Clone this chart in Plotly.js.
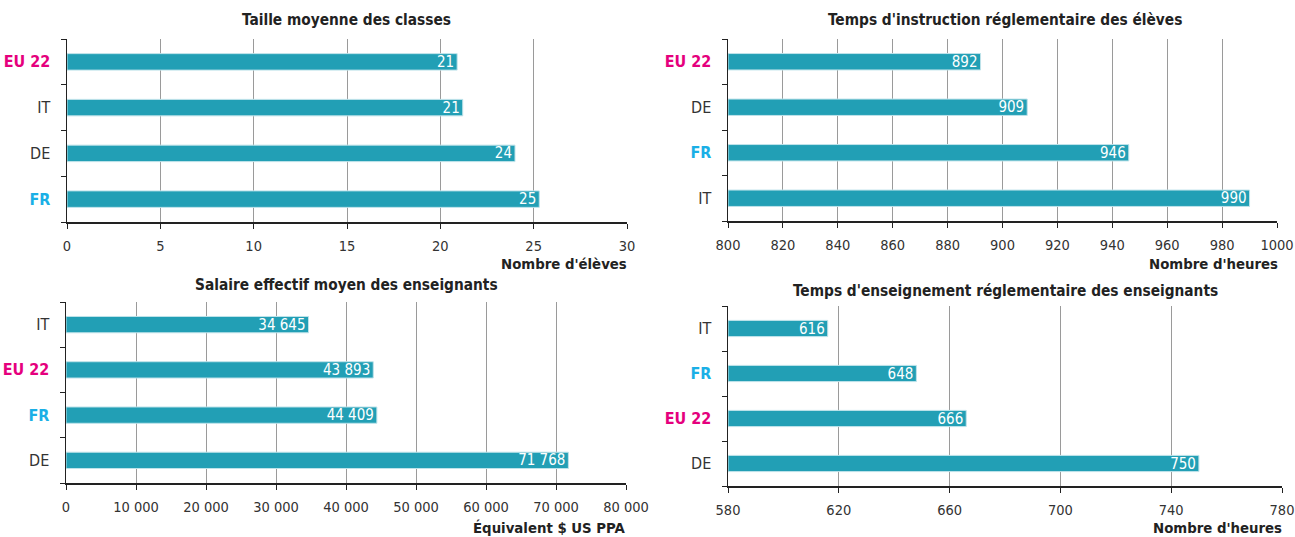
<!DOCTYPE html>
<html><head><meta charset="utf-8">
<script src="https://cdn.plot.ly/plotly-3.0.1.min.js"></script>
<style>html,body{margin:0;padding:0;background:#fff}#chart{width:1295px;height:537px}</style>
</head><body><div id="chart"></div>
<script>
// Panel 1: Taille moyenne des classes
const cats1 = ['EU 22', 'IT', 'DE', 'FR'];
const vals1 = [20.9, 21.2, 24.0, 25.3];
const labels1 = ['21', '21', '24', '25'];
// Panel 2: Temps d'instruction réglementaire des élèves
const cats2 = ['EU 22', 'DE', 'FR', 'IT'];
const vals2 = [892, 909, 946, 990];
const labels2 = ['892', '909', '946', '990'];
// Panel 3: Salaire effectif moyen des enseignants
const cats3 = ['IT', 'EU 22', 'FR', 'DE'];
const vals3 = [34645, 43893, 44409, 71768];
const labels3 = ['34 645', '43 893', '44 409', '71 768'];
// Panel 4: Temps d'enseignement réglementaire des enseignants
const cats4 = ['IT', 'FR', 'EU 22', 'DE'];
const vals4 = [616, 648, 666, 750];
const labels4 = ['616', '648', '666', '750'];

const titles = ['Taille moyenne des classes', "Temps d'instruction réglementaire des élèves",
  'Salaire effectif moyen des enseignants', "Temps d'enseignement réglementaire des enseignants"];
const axisTitles = ["Nombre d'élèves", "Nombre d'heures", 'Équivalent $ US PPA', "Nombre d'heures"];

// pick an installed condensed font
function pickFont(list) {
  const c = document.createElement('canvas').getContext('2d');
  const s = 'Taille moyenne des classes 0123456789';
  for (const f of list) {
    let differs = false;
    for (const fb of ['monospace', 'serif']) {
      c.font = '20px ' + fb; const w0 = c.measureText(s).width;
      c.font = '20px "' + f + '", ' + fb; const w1 = c.measureText(s).width;
      if (Math.abs(w1 - w0) > 0.5) differs = true; else { differs = false; break; }
    }
    if (differs) return f;
  }
  return null;
}
const picked = pickFont(['Liberation Sans Narrow', 'DejaVu Sans Condensed', 'Roboto Condensed', 'Open Sans Condensed', 'Noto Sans Condensed', 'Arial Narrow']);
const FONT = (picked ? '"' + picked + '", ' : '') + 'Roboto, sans-serif';
const K = picked ? 1 : 0.88;

const W = 1295, H = 537;
const BAR = '#229fb5';
const fx = p => p / W, fy = p => 1 - p / H;

function catLabel(c) {
  if (c === 'EU 22') return '<span style="color:#e5007d;font-weight:bold">EU 22</span>';
  if (c === 'FR') return '<span style="color:#1aafe6;font-weight:bold">FR</span>';
  return c;
}

const panels = [
  {cats: cats1, vals: vals1, labels: labels1, xr: [0, 30], dt: 5, dom: [67, 627, 39, 222], fmt: null,
   title: [347, 20], atitle: [629, 263]},
  {cats: cats2, vals: vals2, labels: labels2, xr: [800, 1000], dt: 20, dom: [728, 1277, 39, 221], fmt: null,
   title: [1005, 20], atitle: [1280, 264]},
  {cats: cats3, vals: vals3, labels: labels3, xr: [0, 80000], dt: 10000, dom: [66, 626, 302, 483], fmt: 'space',
   title: [347, 285], atitle: [627, 527]},
  {cats: cats4, vals: vals4, labels: labels4, xr: [580, 780], dt: 40, dom: [728, 1282, 306, 486], fmt: null,
   title: [1005, 291], atitle: [1284, 527]}
];

const data = [], annotations = [];
const layout = {
  width: W, height: H, margin: {l: 0, r: 0, t: 0, b: 0},
  paper_bgcolor: '#fff', plot_bgcolor: '#fff', showlegend: false,
  font: {family: FONT, color: '#333', size: 14},
  separators: ', '
};

panels.forEach((p, i) => {
  const n = i === 0 ? '' : String(i + 1);
  const idx = p.cats.map((_, k) => k);
  const base = p.xr[0];
  data.push({
    type: 'bar', orientation: 'h',
    y: idx, x: p.vals.map(v => v - base), base: base,
    text: p.labels, textposition: 'inside', insidetextanchor: 'end',
    textangle: 0, constraintext: 'none',
    textfont: {color: '#fff', size: 15 * K, family: FONT},
    marker: {color: BAR, line: {color: '#bfe3ea', width: 1}},
    width: 0.36, cliponaxis: false, hoverinfo: 'skip',
    xaxis: 'x' + n, yaxis: 'y' + n
  });
  const tvals = [];
  for (let v = p.xr[0]; v <= p.xr[1] + 1e-9; v += p.dt) tvals.push(v);
  const ttext = tvals.map(v => p.fmt === 'space' ? (v === 0 ? '0' : String(v).replace(/\B(?=(\d{3})+(?!\d))/g, ' ')) : String(v));
  layout['xaxis' + n] = {
    domain: [fx(p.dom[0]), fx(p.dom[1])], range: p.xr, anchor: 'y' + n,
    tickmode: 'array', tickvals: tvals, ticktext: ttext, ticklabeloverflow: 'allow',
    showgrid: true, gridcolor: '#9a9a9a', gridwidth: 1,
    showline: true, linecolor: '#222', linewidth: 1.5,
    ticks: 'outside', ticklen: 5, tickcolor: '#222',
    tickfont: {size: 14.5 * K, color: '#333', family: FONT}, ticklabelstandoff: 5,
    zeroline: false, fixedrange: true
  };
  layout['yaxis' + n] = {
    domain: [fy(p.dom[3]), fy(p.dom[2])], range: [3.5, -0.5], anchor: 'x' + n,
    tickmode: 'array', tickvals: idx, ticktext: p.cats.map(catLabel),
    ticks: '', showgrid: false, zeroline: false,
    showline: true, linecolor: '#222', linewidth: 1.5,
    tickfont: {size: 16 * K, color: '#333', family: FONT}, ticklabelstandoff: 12,
    minor: {tickmode: 'linear', tick0: -0.5, dtick: 1, ticks: 'outside', ticklen: 5, tickcolor: '#222', showgrid: false},
    fixedrange: true
  };
  annotations.push({
    text: '<b>' + titles[i] + '</b>', x: fx(p.title[0]), y: fy(p.title[1]), xref: 'paper', yref: 'paper',
    xanchor: 'center', yanchor: 'middle', showarrow: false, font: {size: 15.3 * K, color: '#222', family: FONT}
  });
  annotations.push({
    text: '<b>' + axisTitles[i] + '</b>', x: fx(p.atitle[0]), y: fy(p.atitle[1]), xref: 'paper', yref: 'paper',
    xanchor: 'right', yanchor: 'middle', showarrow: false, font: {size: 14.8 * K, color: '#222', family: FONT}
  });
});
layout.annotations = annotations;

Plotly.newPlot('chart', data, layout, {displayModeBar: false, staticPlot: true});
</script></body></html>
